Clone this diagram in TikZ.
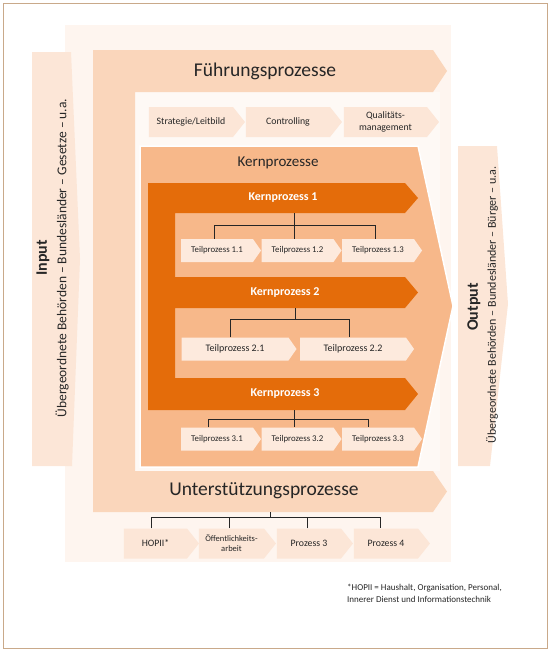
\documentclass[tikz,border=0pt]{standalone}
\usepackage{fontspec}
\setmainfont{Carlito}
\usepackage{tikz}
\usetikzlibrary{shapes.symbols}
\definecolor{frameline}{HTML}{C9A98A}
\definecolor{bgpale}{HTML}{FEF5EF}
\definecolor{innerpale}{HTML}{FEF9F5}
\definecolor{iofill}{HTML}{FCE6D7}
\definecolor{mgmtfill}{HTML}{FAD6BB}
\definecolor{corefill}{HTML}{F7B88A}
\definecolor{coredark}{HTML}{E46C0A}
\definecolor{tpfill}{HTML}{FDEADD}
\definecolor{ink}{HTML}{262626}

\tikzset{
  chev/.style={signal, signal to=east, inner sep=0pt, align=center, text=ink},
  subbox/.style={chev, fill=iofill, signal pointer angle=103, minimum height=30pt, font=\fontsize{9.8}{11.5}\selectfont},
  tpbox/.style={chev, fill=tpfill, signal pointer angle=110, minimum height=23pt, font=\fontsize{8.8}{10}\selectfont},
  kplabel/.style={text=white, font=\bfseries\fontsize{12}{13}\selectfont},
  conn/.style={line width=0.9pt, draw=ink},
}

\begin{document}
\begin{tikzpicture}[x=1pt,y=-1pt]
    \useasboundingbox (0,0) rectangle (550,651);
    \draw[frameline, line width=1pt] (3,3) rectangle (547,648);
    \fill[bgpale] (65,25) rectangle (451,562);
    \fill[innerpale] (135,92) rectangle (440,471);
    \fill[iofill] (32,52) -- (71,52) -- (80,259) -- (72,466) -- (32,466) -- cycle;
    \fill[iofill] (458,146) -- (497,146) -- (508,304) -- (490,466) -- (458,466) -- cycle;
    \node[rotate=90, text=ink, font=\bfseries\fontsize{16}{18}\selectfont] (inhead) at (43,258) {Input};
    \node[rotate=90, text=ink, font=\fontsize{13.5}{15}\selectfont] (intext) at (62,258) {Übergeordnete Behörden – Bundesländer – Gesetze – u.a.};
    \node[rotate=90, text=ink, font=\bfseries\fontsize{16}{18}\selectfont] (outhead) at (474,307) {Output};
    \node[rotate=90, text=ink, font=\fontsize{12}{14}\selectfont] (outtext) at (492,305) {Übergeordnete Behörden – Bundesländer – Bürger – u.a.};

    \fill[mgmtfill] (93,50) -- (433,50) -- (447,71) -- (433,92) -- (135,92) -- (135,471)
      -- (433,471) -- (447,491.5) -- (433,512) -- (93,512) -- cycle;
    \node[text=ink, font=\fontsize{19.5}{21}\selectfont] (fuehr) at (265,71) {Führungsprozesse};
    \node[text=ink, font=\fontsize{19.5}{21}\selectfont] (unter) at (264,491) {Unterstützungsprozesse};

    \node[subbox, minimum width=96pt] (strat) at (191,122) {Strategie/Leitbild};
    \node[subbox, minimum width=96pt] (contr) at (288,122) {Controlling};
    \node[subbox, minimum width=95pt] (quali) at (385.5,122) {Qualitäts-\\management};

    \filldraw[fill=corefill, draw=white, line width=1.5pt] (140,146) -- (418,146) -- (453,306) -- (418,467) -- (140,467) -- cycle;
    \node[text=ink, font=\fontsize{15}{16}\selectfont] (kern) at (278,163) {Kernprozesse};
    \fill[coredark] (148,183) -- (405,183) -- (418,198) -- (405,213) -- (175,213) -- (175,277)
      -- (405,277) -- (418,292.5) -- (405,308) -- (175,308) -- (175,378)
      -- (405,378) -- (418,394) -- (405,410) -- (148,410) -- cycle;
    \node[kplabel] (kp1) at (283,198) {Kernprozess 1};
    \node[kplabel] (kp2) at (285,293) {Kernprozess 2};
    \node[kplabel] (kp3) at (285,394) {Kernprozess 3};

    \node[tpbox, minimum width=80pt] (tp11) at (217,250.5) {Teilprozess 1.1};
    \node[tpbox, minimum width=80pt] (tp12) at (297.5,250.5) {Teilprozess 1.2};
    \node[tpbox, minimum width=80pt] (tp13) at (378,250.5) {Teilprozess 1.3};
    \node[tpbox, minimum width=115pt, font=\fontsize{10}{11}\selectfont] (tp21) at (235,349) {Teilprozess 2.1};
    \node[tpbox, minimum width=114pt, font=\fontsize{10}{11}\selectfont] (tp22) at (353,349) {Teilprozess 2.2};
    \node[tpbox, minimum width=80pt] (tp31) at (217,439) {Teilprozess 3.1};
    \node[tpbox, minimum width=80pt] (tp32) at (297.5,439) {Teilprozess 3.2};
    \node[tpbox, minimum width=80pt] (tp33) at (378,439) {Teilprozess 3.3};

    \coordinate (kp1b) at (294,213);
    \coordinate (kp2b) at (295,308);
    \coordinate (kp3b) at (294,410);
    \draw[conn] (kp1b) -- (kp1b |- tp12.north);
    \draw[conn] ([xshift=-3pt]tp11.north) -- ++(0,-13) -| ([xshift=-3pt]tp13.north);
    \draw[conn] (kp2b) -- ++(0,12);
    \draw[conn] ([xshift=-5pt]tp21.north) -- ++(0,-18) -| ([xshift=-4pt]tp22.north);
    \draw[conn] (kp3b) -- (kp3b |- tp32.north);
    \draw[conn] ([xshift=-9pt]tp31.north) -- ++(0,-7.5) -| ([xshift=-10pt]tp33.north);

    \node[subbox, minimum width=75pt] (hopii) at (155.5,543.5) {HOPII*};
    \node[subbox, minimum width=77pt, font=\fontsize{8.5}{10}\selectfont] (oeff) at (231.5,543.5) {Öffentlichkeits-\\arbeit};
    \node[subbox, minimum width=76pt] (proz3) at (309,543.5) {Prozess 3};
    \node[subbox, minimum width=76pt] (proz4) at (386,543.5) {Prozess 4};
    \coordinate (unterb) at (270,512);
    \draw[conn] (unterb) -- ++(0,6);
    \draw[conn] ([xshift=-4pt]hopii.north) -- ++(0,-11) -| ([xshift=-6pt]proz4.north);
    \draw[conn] ([xshift=-2pt]oeff.north) -- ++(0,-11);
    \draw[conn] ([xshift=-2pt]proz3.north) -- ++(0,-11);

    \node[anchor=north west, align=left, inner sep=0pt, text=ink, font=\fontsize{9}{12}\selectfont] (note) at (347,584)
      {*HOPII = Haushalt, Organisation, Personal,\\Innerer Dienst und Informationstechnik};
\end{tikzpicture}
\end{document}
